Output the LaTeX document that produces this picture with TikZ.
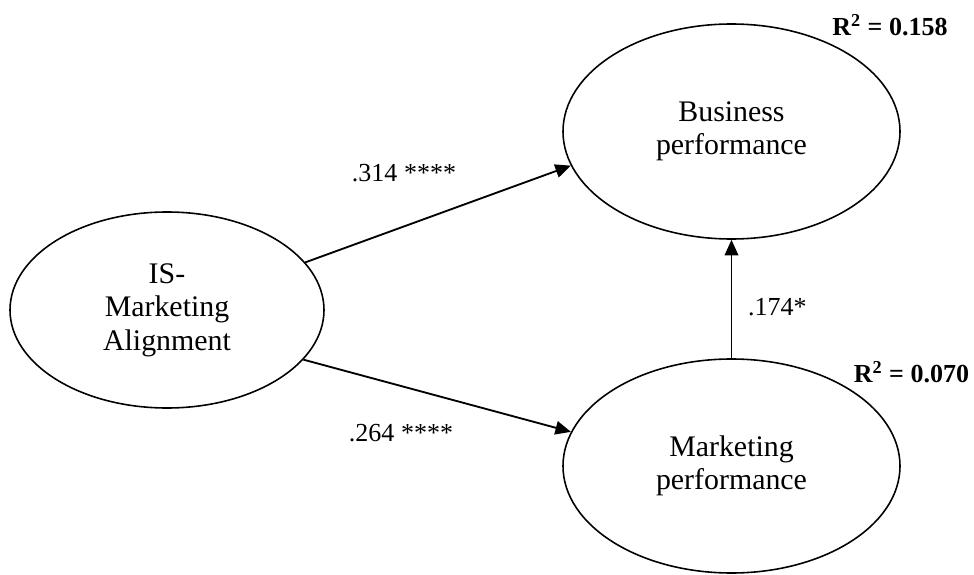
\documentclass[tikz,border=0pt]{standalone}
\usepackage{fontspec}
\setmainfont{Liberation Serif}
\usetikzlibrary{shapes.geometric,arrows.meta}

\begin{document}
\begin{tikzpicture}[
  construct/.style={draw,ellipse,line width=0.9pt,inner sep=0pt,
    align=center,font=\fontsize{17}{19}\selectfont},
  effect/.style={-{Triangle[length=0.31cm,width=0.27cm]},line width=1.05pt},
  coef/.style={font=\fontsize{14.8}{17}\selectfont},
  rsq/.style={font=\fontsize{14.8}{17}\selectfont\bfseries}]
\useasboundingbox (0,0) rectangle (19.48,11.48);

% The three latent constructs of the path model.
\node[construct,minimum width=6.28cm,minimum height=3.92cm] (align) at (3.34,5.28)
  {IS-\\Marketing\\Alignment};
\node[construct,minimum width=6.74cm,minimum height=4.3cm] (busperf) at (14.63,8.85)
  {Business\\performance};
\node[construct,minimum width=6.74cm,minimum height=4.28cm] (mktperf) at (14.63,2.16)
  {Marketing\\performance};

% Structural paths with standardized coefficients.
\draw[effect] (align.19.7) -- (busperf.192.2);
\draw[effect] (align.-20.5) -- (mktperf.168.6);
\draw[effect] (mktperf.north) -- (busperf.south);

\node[coef] (c1) at (8.08,8.02) {.314 ****};
\node[coef] (c2) at (8.02,2.82) {.264 ****};
\node[coef,anchor=west] (c3) at (14.84,5.34) {.174*};

% Explained variance of the endogenous constructs.
\node[rsq] (r1) at (17.8,10.98) {R\textsuperscript{2} = 0.158};
\node[rsq] (r2) at (18.23,4.04) {R\textsuperscript{2} = 0.070};
\end{tikzpicture}
\end{document}
